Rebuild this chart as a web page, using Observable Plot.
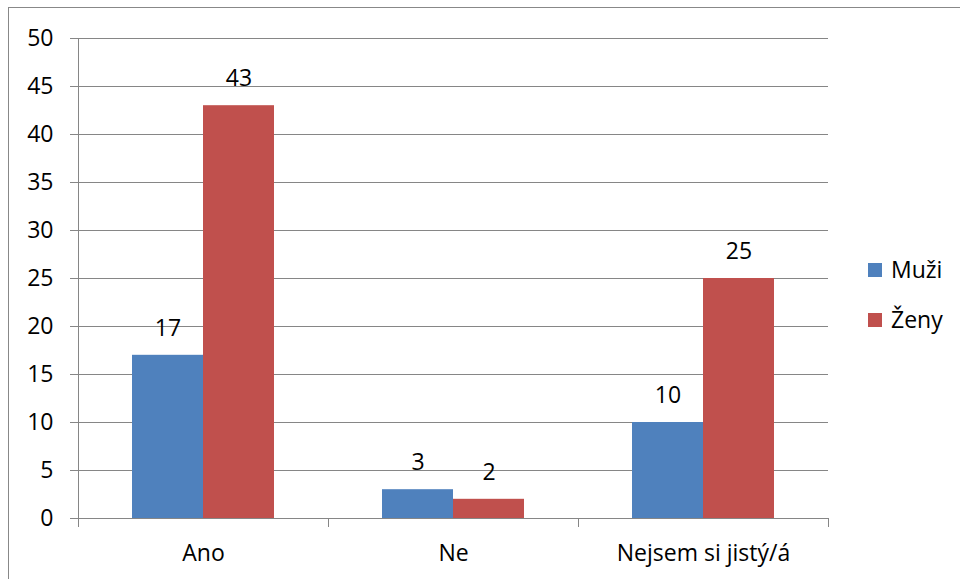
<!DOCTYPE html>
<html><head><meta charset="utf-8">
<script src="https://cdn.jsdelivr.net/npm/d3@7"></script>
<script src="https://cdn.jsdelivr.net/npm/@observablehq/plot@0.6"></script>
<style>
body{margin:0;background:#fff;}
#wrap{position:relative;width:960px;height:579px;overflow:hidden;font-family:"Open Sans",sans-serif;}
#border{position:absolute;left:8px;top:7px;width:1000px;height:700px;border-left:1px solid #888;border-top:1px solid #888;}
#chart{position:absolute;left:0;top:0;}
.lg{position:absolute;font-size:23px;color:#000;line-height:23px;}
.sw{position:absolute;width:14px;height:14px;}
</style></head>
<body><div id="wrap"><div id="border"></div><div id="chart"></div>
<div class="sw" style="left:868px;top:263px;background:#4F81BD"></div><div class="lg" style="left:891px;top:258px">Muži</div>
<div class="sw" style="left:868px;top:313px;background:#C0504D"></div><div class="lg" style="left:891px;top:308px">Ženy</div>
</div>
<script>
const categories = ["Ano", "Ne", "Nejsem si jistý/á"];
const series = ["Muži", "Ženy"];
const muzi = [17, 3, 10];
const zeny = [43, 2, 25];
const yTicks = [0, 5, 10, 15, 20, 25, 30, 35, 40, 45, 50];
const colors = ["#4F81BD", "#C0504D"];

const rows = categories.flatMap((c, i) => [
  {cat: c, s: series[0], v: muzi[i]},
  {cat: c, s: series[1], v: zeny[i]}
]);
const gray = "#868686";
const chart = Plot.plot({
  width: 960, height: 579,
  marginLeft: 78, marginRight: 132, marginTop: 38, marginBottom: 61,
  fx: {domain: categories, padding: 0, label: null},
  x: {domain: series, paddingInner: 0, paddingOuter: 0.76, axis: null},
  y: {domain: [0, 50], label: null},
  color: {domain: series, range: colors},
  style: {fontFamily: "'Open Sans', sans-serif", fontSize: "23px", color: "#000", background: "transparent"},
  marks: [
    Plot.gridY(yTicks, {stroke: gray, strokeOpacity: 1}),
    Plot.axisY(yTicks, {tickSize: 8, tickPadding: 17, stroke: gray, fontSize: 23, label: null}),
    Plot.axisFx({anchor: "bottom", tickSize: 0, tickPadding: 26, fontSize: 23, label: null}),
    Plot.barY(rows, {fx: "cat", x: "s", y: "v", fill: "s"}),
    Plot.text(rows, {fx: "cat", x: "s", y: "v", text: "v", dy: -27, fontSize: 23, fill: "#000"}),
    Plot.ruleX([{cat: categories[0], s: series[0]}], {fx: "cat", x: "s", y1: 0, y2: 50, dx: -89.49, stroke: gray}),
    Plot.frame({anchor: "left", stroke: gray, strokeOpacity: 1, insetTop: 480, insetBottom: -8}),
    Plot.frame({anchor: "right", stroke: gray, strokeOpacity: 1, insetTop: 480, insetBottom: -8})
  ]
});
document.getElementById("chart").appendChild(chart);
</script>
</body></html>
